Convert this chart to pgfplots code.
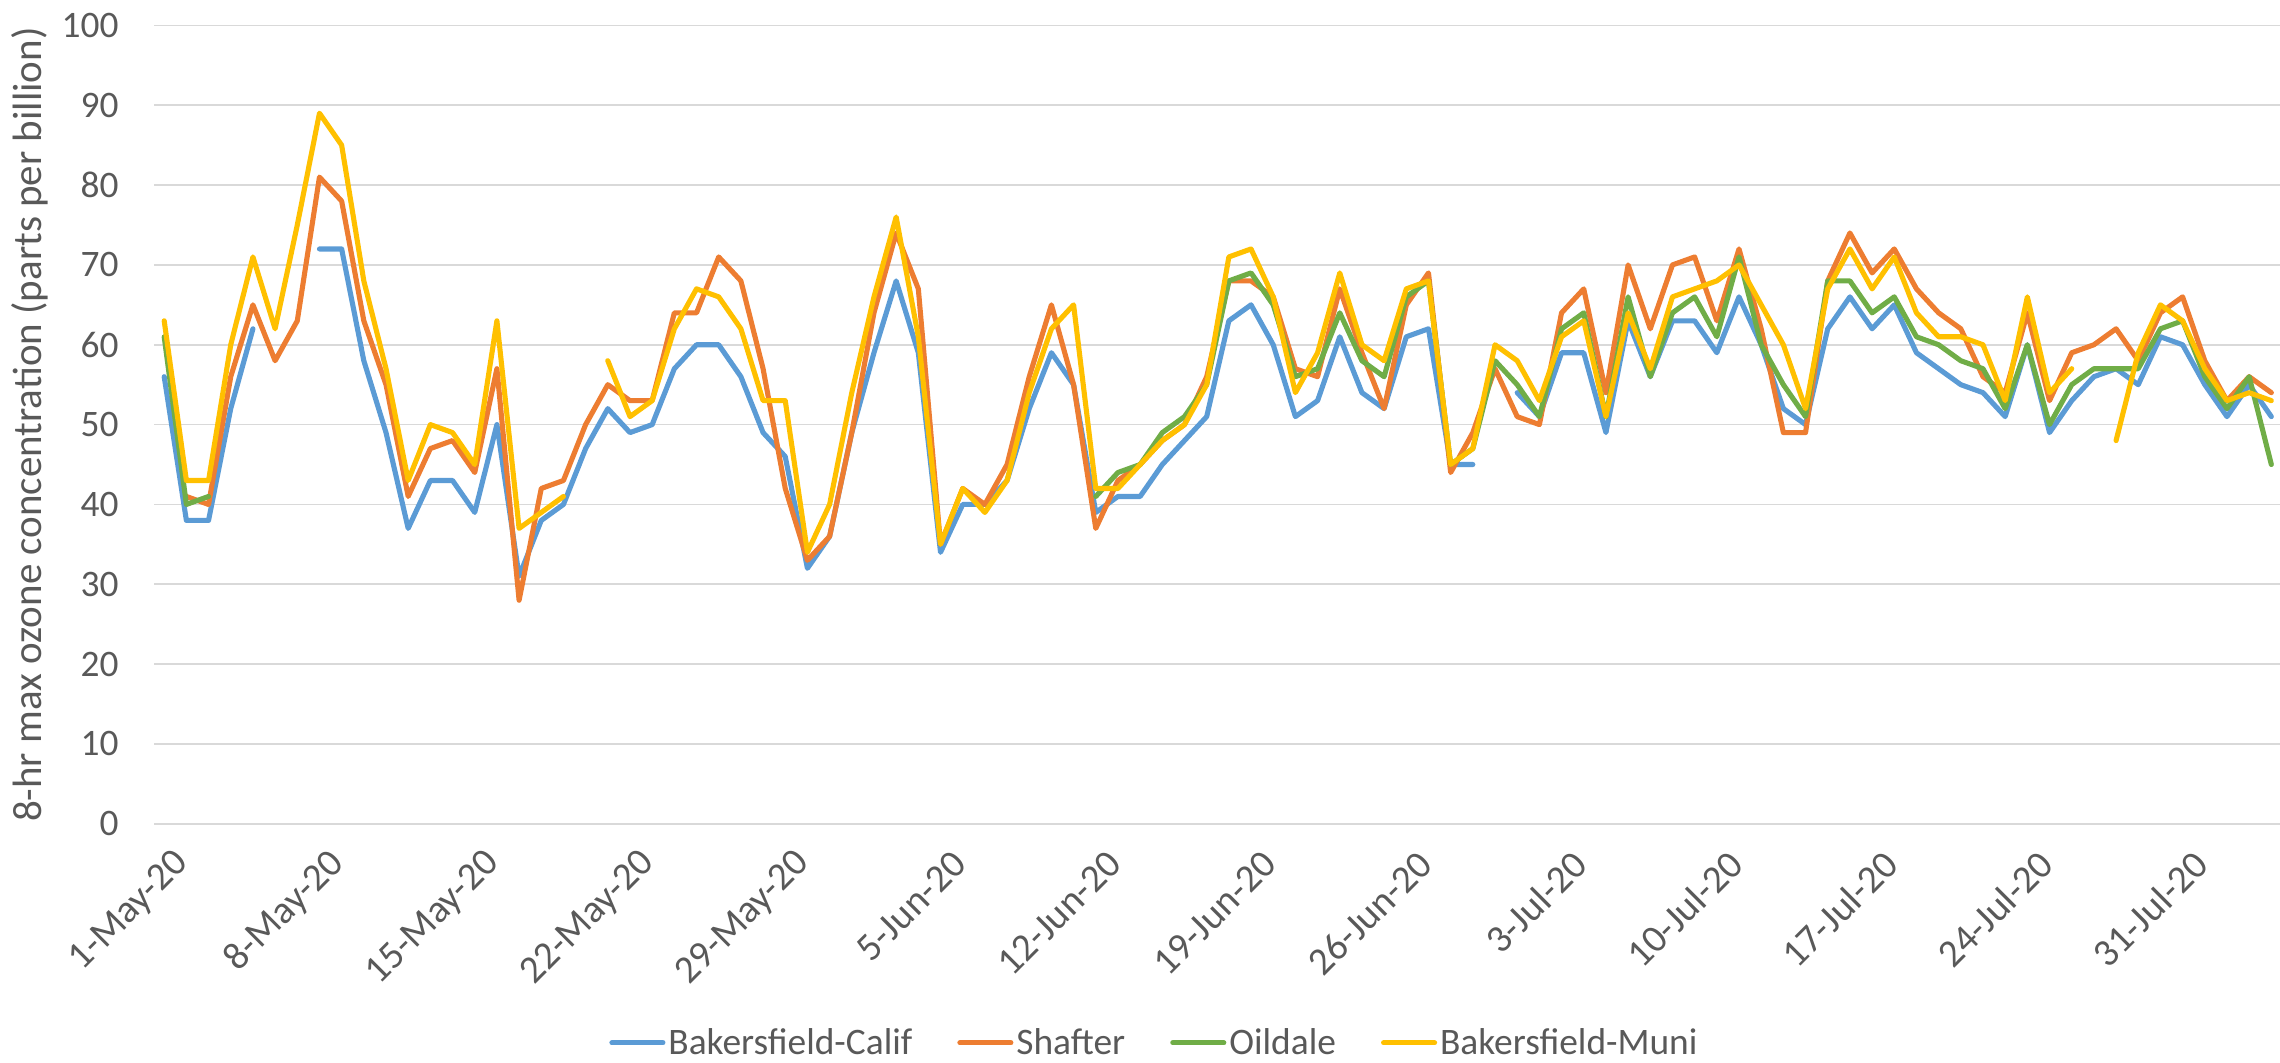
\documentclass[border=0pt]{standalone}
\usepackage{pgfplots}
\pgfplotsset{compat=1.18}
\usepackage{pgfplotstable}
\usepackage{fontspec}
\setmainfont{Carlito}
\definecolor{cblue}{HTML}{5B9BD5}
\definecolor{corange}{HTML}{ED7D31}
\definecolor{cgreen}{HTML}{70AD47}
\definecolor{cyellow}{HTML}{FFC000}
\definecolor{gridgray}{HTML}{D9D9D9}
\definecolor{txtgray}{HTML}{595959}
\pgfplotstableread{
day calif shafter oildale muni
0 56 nan 61 63
1 38 41 40 43
2 38 40 41 43
3 52 56 nan 60
4 62 65 nan 71
5 nan 58 nan 62
6 nan 63 nan 75
7 72 81 nan 89
8 72 78 nan 85
9 58 63 nan 68
10 49 55 nan 57
11 37 41 nan 43
12 43 47 nan 50
13 43 48 nan 49
14 39 44 nan 45
15 50 57 nan 63
16 31 28 nan 37
17 38 42 nan 39
18 40 43 nan 41
19 47 50 nan nan
20 52 55 nan 58
21 49 53 nan 51
22 50 53 nan 53
23 57 64 nan 62
24 60 64 nan 67
25 60 71 nan 66
26 56 68 nan 62
27 49 57 nan 53
28 46 42 nan 53
29 32 33 nan 34
30 36 36 nan 40
31 49 49 nan 54
32 59 64 nan 66
33 68 74 nan 76
34 59 67 nan 61
35 34 35 nan 35
36 40 42 nan 42
37 40 40 nan 39
38 43 45 nan 43
39 52 56 nan 54
40 59 65 nan 62
41 55 55 nan 65
42 39 37 41 42
43 41 43 44 42
44 41 45 45 45
45 45 48 49 48
46 48 50 51 50
47 51 56 55 55
48 63 68 68 71
49 65 68 69 72
50 60 66 65 66
51 51 57 56 54
52 53 56 57 59
53 61 67 64 69
54 54 59 58 60
55 52 52 56 58
56 61 65 66 67
57 62 69 68 68
58 45 44 45 45
59 45 49 47 47
60 nan 57 58 60
61 54 51 55 58
62 51 50 51 53
63 59 64 62 61
64 59 67 64 63
65 49 54 51 51
66 63 70 66 64
67 56 62 56 57
68 63 70 64 66
69 63 71 66 67
70 59 63 61 68
71 66 72 71 70
72 60 62 60 65
73 52 49 55 60
74 50 49 51 52
75 62 68 68 67
76 66 74 68 72
77 62 69 64 67
78 65 72 66 71
79 59 67 61 64
80 57 64 60 61
81 55 62 58 61
82 54 56 57 60
83 51 54 52 53
84 60 64 60 66
85 49 53 50 54
86 53 59 55 57
87 56 60 57 nan
88 57 62 57 48
89 55 58 57 59
90 61 64 62 65
91 60 66 63 63
92 55 58 56 57
93 51 53 52 53
94 55 56 56 54
95 51 54 45 53
}\ozone

\begin{document}
\begin{tikzpicture}
\useasboundingbox (0,0) rectangle (1140pt,531pt);
\begin{axis}[
  at={(77pt,119.1pt)}, anchor=south west,
  scale only axis, width=1063pt, height=399.2pt,
  xmin=-0.46, xmax=95.39, ymin=0, ymax=100,
  ytick={0,10,...,100},
  xtick={0,7,...,91},
  xticklabels={1-May-20,8-May-20,15-May-20,22-May-20,29-May-20,5-Jun-20,12-Jun-20,19-Jun-20,26-Jun-20,3-Jul-20,10-Jul-20,17-Jul-20,24-Jul-20,31-Jul-20},
  ymajorgrids, grid style={draw=gridgray, line width=0.85pt},
  axis line style={draw=none},
  major tick length=0pt,
  tick label style={font=\fontsize{18.7}{22}\selectfont, text=txtgray},
  /pgf/number format/assume math mode=true,
  yticklabel style={anchor=east, inner sep=0pt, xshift=-17.5pt},
  xticklabel style={font=\fontsize{19.5}{23}\selectfont, inner sep=0pt, xshift=9.5pt, yshift=-17pt, rotate=45, anchor=east},
  ylabel={8-hr max ozone concentration (parts per billion)},
  ylabel style={at={(axis description cs:-0.0583,0.5)}, anchor=center, font=\fontsize{20.5}{24}\selectfont, text=txtgray},
  legend columns=4,
  legend style={at={(axis description cs:0.4708,-0.2743)}, anchor=center, draw=none, fill=none, font=\fontsize{18.7}{22}\selectfont, text=txtgray, /tikz/every even column/.append style={column sep=21pt}, nodes={inner sep=1.5pt}},
  legend image code/.code={\draw[#1] (0pt,0pt) -- (25.5pt,0pt);},
  unbounded coords=jump,
  clip=false,
  every axis plot/.append style={line width=2.55pt, line join=round, line cap=round, mark=none},
]
\addplot[color=cblue] table[x=day, y=calif] {\ozone};
\addplot[color=corange] table[x=day, y=shafter] {\ozone};
\addplot[color=cgreen] table[x=day, y=oildale] {\ozone};
\addplot[color=cyellow] table[x=day, y=muni] {\ozone};
\legend{Bakersfield-Calif, Shafter, Oildale, Bakersfield-Muni}
\end{axis}
\end{tikzpicture}
\end{document}
